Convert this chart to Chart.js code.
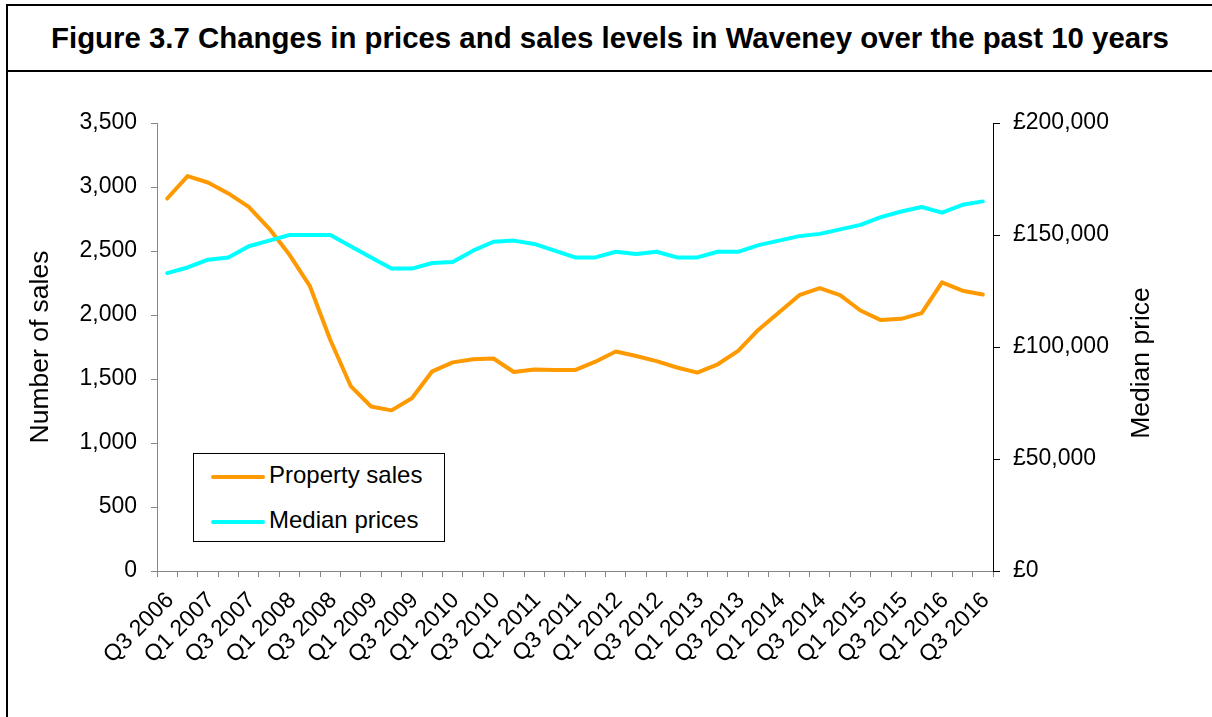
<!DOCTYPE html>
<html>
<head>
<meta charset="utf-8">
<script src="https://cdn.jsdelivr.net/npm/chart.js@4.4.1/dist/chart.umd.min.js"></script>
<style>
    body {
        margin: 0;
        background: #fff;
        overflow: hidden;
        font-family: "Liberation Sans", Arial, sans-serif;
    }

    .frame {
        position: absolute;
        left: 6px;
        top: 4px;
        width: 1204px;
        height: 730px;
        border: 2px solid #000;
    }

    .frame-title {
        height: 64px;
        line-height: 64px;
        border-bottom: 2px solid #000;
        text-align: center;
        font-weight: bold;
        font-size: 29.4px;
        color: #000;
        white-space: nowrap;
    }

    .chart-box {
        position: absolute;
        left: 10px;
        top: 80px;
        width: 1200px;
        height: 637px;
    }

    .legend {
        position: absolute;
        left: 193px;
        top: 453px;
        width: 250px;
        height: 87px;
        border: 1px solid #000;
        background: #fff;
    }

    .legend-item {
        position: absolute;
        left: 17px;
        height: 30px;
        line-height: 30px;
        font-size: 24px;
        color: #000;
        white-space: nowrap;
    }

    .legend-item span {
        display: inline-block;
        width: 54px;
        height: 4px;
        border-radius: 2px;
        vertical-align: middle;
        margin-right: 4px;
    }
</style>
</head>
<body>
<div class="frame">
    <div class="frame-title">Figure 3.7 Changes in prices and sales levels in Waveney over the past 10 years</div>
</div>
<div class="chart-box">
    <canvas id="waveney-chart"></canvas>
</div>
<div class="legend" id="waveney-legend"></div>

<script>
const quarters = [
    "Q3 2006", "Q4 2006", "Q1 2007", "Q2 2007", "Q3 2007", "Q4 2007",
    "Q1 2008", "Q2 2008", "Q3 2008", "Q4 2008", "Q1 2009", "Q2 2009",
    "Q3 2009", "Q4 2009", "Q1 2010", "Q2 2010", "Q3 2010", "Q4 2010",
    "Q1 2011", "Q2 2011", "Q3 2011", "Q4 2011", "Q1 2012", "Q2 2012",
    "Q3 2012", "Q4 2012", "Q1 2013", "Q2 2013", "Q3 2013", "Q4 2013",
    "Q1 2014", "Q2 2014", "Q3 2014", "Q4 2014", "Q1 2015", "Q2 2015",
    "Q3 2015", "Q4 2015", "Q1 2016", "Q2 2016", "Q3 2016"
];

const propertySales = [
    2910, 3085, 3035, 2950, 2845, 2675, 2470, 2225, 1805, 1445,
    1285, 1255, 1350, 1560, 1630, 1655, 1660, 1555, 1575, 1570,
    1570, 1635, 1715, 1680, 1640, 1590, 1550, 1615, 1720, 1885,
    2020, 2155, 2210, 2155, 2035, 1960, 1970, 2015, 2255, 2190,
    2160
];

const medianPrices = [
    133000, 135500, 139000, 140000, 145000, 147500, 150000, 150000, 150000, 145000,
    140000, 135000, 135000, 137500, 138000, 143000, 147000, 147500, 146000, 143000,
    140000, 140000, 142500, 141500, 142500, 140000, 140000, 142500, 142500, 145500,
    147500, 149500, 150500, 152500, 154500, 158000, 160500, 162500, 160000, 163500,
    165000
];

const salesTicks = [0, 500, 1000, 1500, 2000, 2500, 3000, 3500];
const priceTicks = [0, 50000, 100000, 150000, 200000];

const fontFamily = "'Liberation Sans', Arial, sans-serif";
const greyAxis = "#868686";

// Excel draws the right-hand title bottom-to-top, Chart.js does the opposite
const rightTitlePlugin = {
    id: "rightTitle",
    afterDraw(chart) {
        const { ctx } = chart;
        ctx.save();
        ctx.translate(1132, 283);
        ctx.rotate(-Math.PI / 2);
        ctx.font = `26.5px ${fontFamily}`;
        ctx.fillStyle = "#000";
        ctx.textAlign = "center";
        ctx.textBaseline = "middle";
        ctx.fillText("Median price", 0, 0);
        ctx.restore();
    }
};

const chart = new Chart(document.getElementById("waveney-chart"), {
    type: "line",
    data: {
        labels: quarters,
        datasets: [
            {
                label: "Property sales",
                data: propertySales,
                yAxisID: "y",
                borderColor: "#ff9900",
                backgroundColor: "#ff9900",
                borderWidth: 4,
                pointRadius: 0,
                tension: 0,
                borderCapStyle: "round",
                borderJoinStyle: "round",
                order: 1
            },
            {
                label: "Median prices",
                data: medianPrices,
                yAxisID: "y1",
                borderColor: "#00ffff",
                backgroundColor: "#00ffff",
                borderWidth: 4,
                pointRadius: 0,
                tension: 0,
                borderCapStyle: "round",
                borderJoinStyle: "round",
                order: 0
            }
        ]
    },
    options: {
        responsive: true,
        maintainAspectRatio: false,
        animation: false,
        layout: {
            padding: { top: 43, right: 0, bottom: 0, left: 0 }
        },
        plugins: {
            legend: { display: false },
            tooltip: { enabled: false }
        },
        scales: {
            x: {
                offset: true,
                afterFit(scale) {
                    scale.height = 146;
                },
                grid: {
                    offset: true,
                    drawOnChartArea: false,
                    tickLength: 6,
                    color: greyAxis
                },
                border: { color: greyAxis, width: 1 },
                ticks: {
                    autoSkip: false,
                    maxRotation: 45,
                    minRotation: 45,
                    padding: 10,
                    labelOffset: 3,
                    color: "#000",
                    font: { family: fontFamily, size: 23 },
                    callback(value, index) {
                        return index % 2 === 0 ? quarters[index] : "";
                    }
                }
            },
            y: {
                position: "left",
                min: 0,
                max: 3500,
                afterFit(scale) {
                    scale.width = 147;
                },
                afterBuildTicks(scale) {
                    scale.ticks = salesTicks.map(value => ({ value }));
                },
                grid: {
                    drawOnChartArea: false,
                    tickLength: 6,
                    color: greyAxis
                },
                border: { color: greyAxis, width: 1 },
                ticks: {
                    padding: 14,
                    color: "#000",
                    font: { family: fontFamily, size: 23 },
                    callback(value) {
                        return value.toLocaleString("en-GB");
                    }
                },
                title: {
                    display: true,
                    text: "Number of sales",
                    color: "#000",
                    font: { family: fontFamily, size: 26.5 },
                    padding: { top: 15, bottom: 0 }
                }
            },
            y1: {
                position: "right",
                min: 0,
                max: 200000,
                afterFit(scale) {
                    scale.width = 217;
                },
                afterBuildTicks(scale) {
                    scale.ticks = priceTicks.map(value => ({ value }));
                },
                grid: {
                    drawOnChartArea: false,
                    tickLength: 7,
                    color: "#000"
                },
                border: { color: "#000", width: 1 },
                ticks: {
                    padding: 13,
                    color: "#000",
                    font: { family: fontFamily, size: 23 },
                    callback(value) {
                        return `£${value.toLocaleString("en-GB")}`;
                    }
                }
            }
        }
    },
    plugins: [rightTitlePlugin]
});

// legend box sits inside the plot, like the Excel original
const legend = document.getElementById("waveney-legend");
chart.data.datasets.forEach((dataset, i) => {
    const item = document.createElement("div");
    item.className = "legend-item";
    item.style.top = `${6 + i * 45}px`;
    item.innerHTML = `<span style="background:${dataset.borderColor}"></span>${dataset.label}`;
    legend.appendChild(item);
});
</script>
</body>
</html>
